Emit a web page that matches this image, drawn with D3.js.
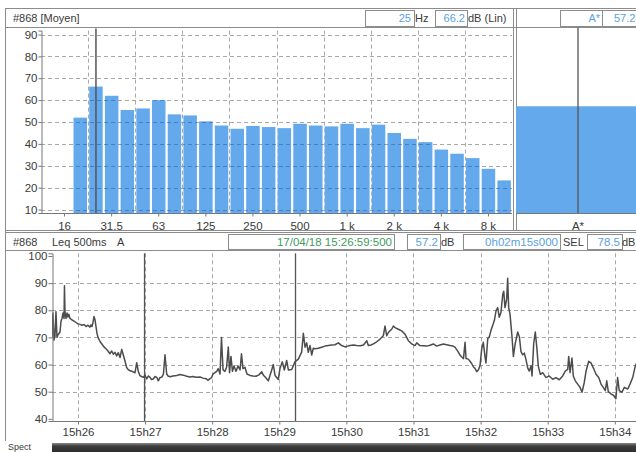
<!DOCTYPE html>
<html><head><meta charset="utf-8">
<script src="https://cdn.jsdelivr.net/npm/d3@7"></script>
<style>
body{margin:0;background:#fff;}
svg{display:block;font-family:"Liberation Sans",Arial,sans-serif;}
</style></head><body>
<svg id="c" width="636" height="452"></svg>
<script>
// ---------- data ----------
const bands = ["12.5","16","20","25","31.5","40","50","63","80","100","125","160","200","250","315","400","500","630","800","1k","1.25k","1.6k","2k","2.5k","3.15k","4k","5k","6.3k","8k","10k"];
const bandLevels = [null,null,52,66.2,62,55.5,56.2,60,53.5,53,50.3,48.4,46.9,48.2,47.7,47.2,49.2,48.4,48,49.2,47.2,48.8,45,42.3,40.8,37.4,35.5,33.5,28.6,23.3];
const bandTicks = ["16","31.5","63","125","250","500","1k","2k","4k","8k"];
const bandTickText = ["16","31.5","63","125","250","500","1 k","2 k","4 k","8 k"];
const bandGrid = ["20","40","80","160","315","630","1.25k","2.5k","5k"];
const cursorBand = "25";
const globalLabels = ["A*"];
const globalLevels = [57.2];
const levelTicksTop = [10,20,30,40,50,60,70,80,90];

// time in seconds after 15h25m00s, Leq 500ms A in dB
const timeSec = [36.8,37.6,38.5,39.4,40.3,41.2,42.1,43.9,44.8,45.7,46.6,47.5,47.9,48.4,49.3,50.2,51.1,51.9,52.8,54.6,56.4,58.2,60,61.8,63.6,65.4,67.2,68.9,70.7,71.6,72.5,73.4,74.3,75.2,76.1,77,77.9,79.7,81.5,83.2,85,86.8,88.6,90.1,91.6,93.1,94.6,96,97.6,99.1,100.5,102,103.5,104.7,106.5,108.3,111,112.5,113.9,115.4,117.2,118.4,119.9,121.4,123,124.4,125.7,127.3,128.9,130.4,131.8,133.3,134.8,136.4,137.8,139.3,140.5,142.3,144.9,148.3,151.2,154.2,157.2,160.1,162.8,165.5,169.1,171.8,174.5,176.2,178,179.5,180.7,182.5,184,185.4,187,188.3,189.7,191.4,192.9,194.4,195.5,196.8,198.1,199.5,201.3,203.1,204.9,206.2,207.5,209.3,211.1,213.8,216.5,219.2,221.8,224.3,225.9,227.2,230.2,233.2,234.6,236.2,239.1,240.6,242.7,244.5,246.6,248.1,251.1,254,257,260,261.5,263,264.5,265.9,267.5,269,270.4,271.9,274.9,277.9,280.9,283.8,286.9,289.8,292.8,295.8,298.8,300.3,303.2,306.2,309.2,312.2,315.3,318.2,319.6,322,324.1,327.1,330.1,333,334.5,336.1,337.5,339,340.5,342,343.5,346.4,349.4,352.4,353.9,355.4,356.9,358.4,361.3,362.9,365.8,368.5,371.8,374.8,377.7,380.8,383.7,386.7,389.7,392.7,395.3,397.1,398.6,400.1,401.6,403.1,404.7,406.1,407,409,410.5,412,413.5,415,416.5,418,419.5,421,422.4,423.9,424.8,426.4,427.8,429.3,430.8,432.3,433.8,435.3,436.7,438.2,439.8,440.7,441.8,443.3,444.2,445.1,446.3,448.1,449.3,451,453.2,454.7,456.1,457.7,459.1,460.6,462.1,463.5,465.1,466,467.5,468.9,470.2,471.6,473.4,475.5,478.5,481.4,484.5,487.4,490.4,493.4,495.7,497.9,498.8,500,501.7,502.9,504.7,506.8,508.9,510.7,512.7,514.3,516.7,518.7,520.8,523.2,525.6,527.7,529.7,531.5,532.8,534.2,536.6,539,541,542.5,544,546.4,548.5,551.6,553.6,556,558.3,559.9];
const levelDb = [70,79,69,70.5,79.5,70,71,72,76,77,79,77,89,79,77,79,77.5,78.5,77,76.5,76,75.5,75,74.8,74.5,74.8,74,74.5,73.8,74.6,74,75.5,77.7,76.5,74,71.5,70,68.5,67.5,66.5,65.8,65,64,65,63.8,64.5,63.2,64.4,62.6,65.6,63.5,61.3,58.9,58.2,57.7,57.5,57,60.7,57.5,55.9,55.5,55.3,56,54.7,55.8,55.3,54.5,54.7,55.6,55.3,54,55.2,55.3,56.5,63.6,56.5,55.8,55.5,55.8,56,56.3,56.1,55.7,55.4,55.6,55.3,55.4,55,54.8,54.2,54.8,55.2,56.5,57,57.5,58.5,56.5,70,58,57.5,59,66.5,57,63,57.5,59.5,57.5,59.5,58,64,58.5,59,56.5,56,55.8,55.7,56.2,57.3,56,55.5,54,58,60,56,54.5,58.5,61,58,61.5,58,58.2,61,62,64.6,71.5,66.4,68,64.5,67,63.5,66,65.8,66,66.4,66.8,67,67.2,67.3,68,67,66.5,66.7,67,67.2,67,66.9,67.2,68.8,67,67.2,67.6,68.4,69.4,70.6,74.2,70.6,71.8,72.5,73,74.2,73.6,73,72.4,71.2,70,68.8,68.2,67.6,67,68,67,66.9,66.8,67.1,67.6,66.8,67.2,67.6,67.3,67,66.8,66.4,65.5,64.6,63.5,62.8,62.2,68.2,62.2,62,61.2,60.4,59.2,58.6,57.4,58,59.6,65.8,68.2,63,60.6,69.6,70.2,72.6,74.4,76.2,79.8,81,77.4,79.2,85.8,87,81,84,91.8,81,78.6,70.2,63,67.8,72,70.2,64.8,63.6,64.2,61.8,58.8,57.6,59.5,55.8,67.8,72,66.6,59.4,56.4,57,55.2,55.8,54.6,55.2,54.4,55.8,57.6,58.2,63,57,62.4,55.8,54,52.8,51.6,49.8,53.4,57.6,61.2,60.6,58.8,56.4,55.2,52.8,51.6,50.4,54,50,49.2,48.6,47.4,55.2,50.4,49.8,51.6,51,52.8,55.2,59.4,61];
const timeTicks = [60,120,180,240,300,360,420,480,540];
const timeTickText = ["15h26","15h27","15h28","15h29","15h30","15h31","15h32","15h33","15h34"];
const timeDomain = [36.75,560.75];
const levelTicksBottom = [40,50,60,70,80,90,100];
const cursorSec = [119.5,254.5];

// ---------- drawing ----------
const svg = d3.select("#c");
const BLUE_TXT = "#5b9fe2", GREEN_TXT = "#3f9a5c", BAR = "#63a9ec", FRAME = "#8c8c8c", TXT = "#3a3a3a", GRID = "#a8a8a8";

const xB = d3.scaleBand().domain(bands).range([41,512]).paddingInner(0.14).paddingOuter(0.07);
const yT = d3.scaleLinear().domain([8.4,91.8]).range([213,30.6]);
const xG = d3.scaleBand().domain(globalLabels).range([516,640]);
const xT = d3.scaleLinear().domain(timeDomain).range([52,638]);
const yB = d3.scaleLinear().domain([39.2,101]).range([421,253.3]);

// frames
const fr = svg.append("g").attr("stroke",FRAME).attr("fill","none");
fr.append("line").attr("x1",5).attr("x2",636).attr("y1",8.5).attr("y2",8.5);
fr.append("line").attr("x1",5.5).attr("x2",5.5).attr("y1",8).attr("y2",441);
fr.append("line").attr("x1",5).attr("x2",636).attr("y1",27.5).attr("y2",27.5);
fr.append("line").attr("x1",513.5).attr("x2",513.5).attr("y1",8).attr("y2",231);
fr.append("line").attr("x1",516.5).attr("x2",516.5).attr("y1",8).attr("y2",231);
fr.append("line").attr("x1",5).attr("x2",636).attr("y1",230.5).attr("y2",230.5);
fr.append("line").attr("x1",5).attr("x2",636).attr("y1",232.5).attr("y2",232.5);
fr.append("line").attr("x1",5).attr("x2",636).attr("y1",250.5).attr("y2",250.5);

function box(x,y,w,h){ svg.append("rect").attr("x",x+0.5).attr("y",y+0.5).attr("width",w).attr("height",h).attr("fill","none").attr("stroke",FRAME); }
function txt(x,y,s,col,anchor,size){ svg.append("text").attr("x",x).attr("y",y).attr("fill",col).attr("font-size",size||11).attr("text-anchor",anchor||"start").text(s); }
txt(13,22,"#868 [Moyen]",TXT);
box(365,10,49,16); txt(411,22,"25",BLUE_TXT,"end");
txt(415,22,"Hz",TXT);
box(435,10,32,16); txt(465,22,"66.2",BLUE_TXT,"end");
txt(468,22,"dB (Lin)",TXT);
box(560,10,42,16); txt(600,22,"A*",BLUE_TXT,"end");
box(602,10,40,16); txt(614,22,"57.2",BLUE_TXT,"start");

txt(13,246,"#868",TXT); txt(52,246,"Leq 500ms",TXT); txt(117,246,"A",TXT);
box(228,234,166,15); txt(392,246,"17/04/18 15:26:59:500",GREEN_TXT,"end",11.5);
box(407,234,33,15); txt(438,246,"57.2",BLUE_TXT,"end",11.5);
txt(441,246,"dB",TXT);
box(463,234,97,15); txt(558,246,"0h02m15s000",BLUE_TXT,"end",11.5);
txt(563,246,"SEL",TXT);
box(587,234,35,15); txt(620,246,"78.5",BLUE_TXT,"end",11.5);
txt(622,246,"dB",TXT);

// top grid (drawn twice: gray behind, tinted through the bars)
function drawTopGrid(g, hCol, vCol){
  g.selectAll("line.h").data(levelTicksTop).join("line").attr("class","h")
    .attr("x1",41).attr("x2",512).attr("y1",d=>Math.round(yT(d))+0.5).attr("y2",d=>Math.round(yT(d))+0.5)
    .attr("stroke",hCol).attr("stroke-dasharray","4,3");
  g.selectAll("line.v").data(bandGrid).join("line").attr("class","v")
    .attr("x1",d=>Math.round(xB(d)+xB.bandwidth()/2+xB.step()/2)+0.5)
    .attr("x2",d=>Math.round(xB(d)+xB.bandwidth()/2+xB.step()/2)+0.5)
    .attr("y1",yT.range()[1]).attr("y2",yT.range()[0])
    .attr("stroke",vCol).attr("stroke-dasharray","4,3");
}
drawTopGrid(svg.append("g"), GRID, GRID);

const barData = bands.map((b,i)=>({b,v:bandLevels[i]})).filter(d=>d.v!=null);
svg.append("g").selectAll("rect").data(barData).join("rect")
  .attr("x",d=>xB(d.b)).attr("width",xB.bandwidth())
  .attr("y",d=>yT(d.v)).attr("height",d=>yT.range()[0]-yT(d.v))
  .attr("fill",BAR);
const cp = svg.append("clipPath").attr("id","barClip");
cp.selectAll("rect").data(barData).join("rect")
  .attr("x",d=>xB(d.b)).attr("width",xB.bandwidth())
  .attr("y",d=>yT(d.v)).attr("height",d=>yT.range()[0]-yT(d.v));
drawTopGrid(svg.append("g").attr("clip-path","url(#barClip)"), "#3f80c8", "#e8f2fc");

svg.append("g").selectAll("rect").data(globalLabels).join("rect")
  .attr("x",d=>xG(d)).attr("width",xG.bandwidth())
  .attr("y",(d,i)=>yT(globalLevels[i])).attr("height",(d,i)=>yT.range()[0]-yT(globalLevels[i]))
  .attr("fill",BAR);

svg.append("line").attr("x1",xB(cursorBand)+xB.bandwidth()/2).attr("x2",xB(cursorBand)+xB.bandwidth()/2)
  .attr("y1",yT.range()[1]-2).attr("y2",yT.range()[0]).attr("stroke","#555").attr("stroke-width",1.5);
svg.append("line").attr("x1",xG(globalLabels[0])+xG.bandwidth()/2).attr("x2",xG(globalLabels[0])+xG.bandwidth()/2)
  .attr("y1",yT.range()[1]-3).attr("y2",yT.range()[0]).attr("stroke","#555").attr("stroke-width",1.3);

svg.append("g").attr("transform","translate(41.5,0)")
  .call(d3.axisLeft(yT).tickValues(levelTicksTop).tickSize(3).tickPadding(1));
const axTB = svg.append("g").attr("transform","translate(0,213.5)")
  .call(d3.axisBottom(xB).tickValues(bandTicks).tickFormat((d,i)=>bandTickText[i]).tickSize(3).tickPadding(5));
axTB.select(".domain").attr("d","M41,0H512");
const axG = svg.append("g").attr("transform","translate(0,213.5)")
  .call(d3.axisBottom(xG).tickSize(0).tickPadding(8));
axG.select(".domain").attr("d","M516,0H640");

const gB = svg.append("g");
gB.selectAll("line.h").data(levelTicksBottom.filter(d=>d>40&&d<100)).join("line").attr("class","h")
  .attr("x1",52).attr("x2",636).attr("y1",d=>Math.round(yB(d))+0.5).attr("y2",d=>Math.round(yB(d))+0.5)
  .attr("stroke",GRID).attr("stroke-dasharray","4,3");
gB.selectAll("line.v").data(timeTicks).join("line").attr("class","v")
  .attr("x1",d=>Math.round(xT(d))+0.5).attr("x2",d=>Math.round(xT(d))+0.5)
  .attr("y1",yB.range()[1]).attr("y2",yB.range()[0])
  .attr("stroke",GRID).attr("stroke-dasharray","4,3");

svg.append("g").selectAll("line").data(cursorSec).join("line")
  .attr("x1",d=>xT(d)).attr("x2",d=>xT(d)).attr("y1",yB.range()[1]).attr("y2",yB.range()[0])
  .attr("stroke","#555").attr("stroke-width",1.3);

svg.append("clipPath").attr("id","clipB").append("rect").attr("x",52).attr("y",250).attr("width",600).attr("height",175);
const line = d3.line().x((d,i)=>xT(timeSec[i])).y(d=>yB(d));
svg.append("path").attr("clip-path","url(#clipB)").datum(levelDb).attr("d",line)
  .attr("fill","none").attr("stroke","#4d4d4d").attr("stroke-width",1.5).attr("stroke-linejoin","round");

svg.append("g").attr("transform","translate(52.5,0)")
  .call(d3.axisLeft(yB).tickValues(levelTicksBottom).tickSize(4).tickPadding(1));
const axBB = svg.append("g").attr("transform","translate(0,421.5)")
  .call(d3.axisBottom(xT).tickValues(timeTicks).tickFormat((d,i)=>timeTickText[i]).tickSize(3).tickPadding(3));
axBB.select(".domain").attr("d","M52,0H640");

svg.selectAll(".tick text").attr("fill",TXT).attr("font-size",11.5).attr("font-family","Liberation Sans, Arial, sans-serif");
svg.selectAll(".domain").attr("stroke","#777");
svg.selectAll(".tick line").attr("stroke","#777");

txt(8,450,"Spect",TXT,"start",9);
const grad = svg.append("defs").append("linearGradient").attr("id","sg").attr("x1",0).attr("x2",0).attr("y1",0).attr("y2",1);
grad.append("stop").attr("offset",0).attr("stop-color","#8a8a8a");
grad.append("stop").attr("offset",0.35).attr("stop-color","#3c3c3c");
grad.append("stop").attr("offset",1).attr("stop-color","#2e2e2e");
svg.append("rect").attr("x",52).attr("y",443).attr("width",590).attr("height",9).attr("fill","url(#sg)");
</script>
</body></html>
